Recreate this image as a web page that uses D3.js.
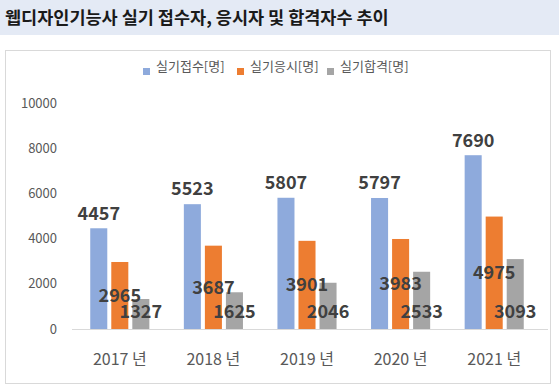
<!DOCTYPE html>
<html>
<head>
<meta charset="utf-8">
<script src="https://cdn.jsdelivr.net/npm/d3@7"></script>
<style>
  body { margin: 0; background: #fff; }
  svg { display: block; font-family: "Noto Sans CJK KR", "Noto Sans", sans-serif; }
</style>
</head>
<body>
<div id="chart"></div>
<script>
const title = "웹디자인기능사 실기 접수자, 응시자 및 합격자수 추이";
const years = ["2017 년", "2018 년", "2019 년", "2020 년", "2021 년"];
const seriesNames = ["실기접수[명]", "실기응시[명]", "실기합격[명]"];
const applied = [4457, 5523, 5807, 5797, 7690];
const tested = [2965, 3687, 3901, 3983, 4975];
const passed = [1327, 1625, 2046, 2533, 3093];
const yTicks = [0, 2000, 4000, 6000, 8000, 10000];
const colors = ["#8eaadc", "#ed7d31", "#a5a5a5"];

const W = 559, H = 390;
const svg = d3.select("#chart").append("svg").attr("width", W).attr("height", H);

// title band
svg.append("rect").attr("x", 0).attr("y", 0).attr("width", W).attr("height", 35).attr("fill", "#e4eaf5");
svg.append("text").attr("x", 5).attr("y", 24)
  .attr("font-size", 17.5).attr("font-weight", "bold").attr("fill", "#1a1a1a")
  .text(title);

// chart frame
svg.append("rect").attr("x", 5.5).attr("y", 50.5).attr("width", 545).attr("height", 333)
  .attr("fill", "#fff").attr("stroke", "#d9d9d9");

const x0 = d3.scaleBand().domain(years).range([73, 541]);
const x1 = d3.scaleBand().domain(seriesNames).range([0, x0.bandwidth()])
  .paddingInner(0.19).paddingOuter(0.82);
const y = d3.scaleLinear().domain([0, 10000]).range([329, 103]);

// y tick labels
svg.append("g").selectAll("text").data(yTicks).join("text")
  .attr("x", 57).attr("y", d => y(d)).attr("dy", "0.35em")
  .attr("text-anchor", "end").attr("font-size", 13).attr("fill", "#595959")
  .text(d => d);

// baseline
svg.append("line").attr("x1", 72).attr("x2", 548).attr("y1", y(0) + 0.5).attr("y2", y(0) + 0.5)
  .attr("stroke", "#d9d9d9");

const series = [applied, tested, passed];
const rows = [];
series.forEach((vals, s) => vals.forEach((v, i) => rows.push({ s, i, v })));

svg.append("g").selectAll("rect").data(rows).join("rect")
  .attr("x", d => x0(years[d.i]) + x1(seriesNames[d.s]))
  .attr("y", d => y(d.v))
  .attr("width", x1.bandwidth())
  .attr("height", d => y(0) - y(d.v))
  .attr("fill", d => colors[d.s]);

// data labels: outside end / center / inside base
svg.append("g").selectAll("text").data(rows).join("text")
  .attr("x", d => x0(years[d.i]) + x1(seriesNames[d.s]) + x1.bandwidth() / 2)
  .attr("y", d => d.s === 0 ? y(d.v) - 15 : d.s === 1 ? (y(d.v) + y(0)) / 2 : y(0) - 17)
  .attr("dy", "0.35em")
  .attr("text-anchor", "middle")
  .attr("font-size", 18).attr("font-weight", "bold").attr("fill", "#404040")
  .text(d => d.v);

// category labels
svg.append("g").selectAll("text").data(years).join("text")
  .attr("x", d => x0(d) + x0.bandwidth() / 2).attr("y", 359).attr("dy", "0.35em")
  .attr("text-anchor", "middle").attr("font-size", 16).attr("fill", "#595959")
  .text(d => d);

// legend
const legendX = [143, 237, 327];
const lg = svg.append("g").selectAll("g").data(seriesNames).join("g")
  .attr("transform", (d, i) => `translate(${legendX[i]},0)`);
lg.append("rect").attr("x", 0).attr("y", 68).attr("width", 7).attr("height", 7)
  .attr("fill", (d, i) => colors[i]);
lg.append("text").attr("x", 13).attr("y", 66).attr("dy", "0.35em")
  .attr("font-size", 13).attr("fill", "#595959").text(d => d);
</script>
</body>
</html>
